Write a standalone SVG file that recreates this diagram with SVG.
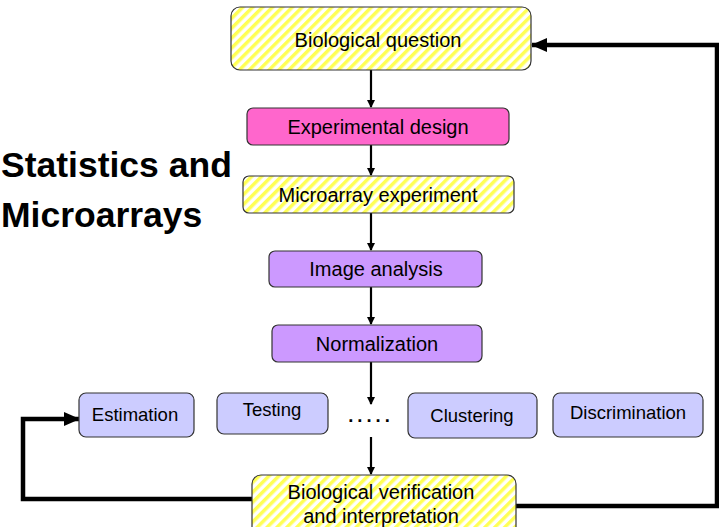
<svg xmlns="http://www.w3.org/2000/svg" width="719" height="527" viewBox="0 0 719 527">
<style>
.box{stroke:#333;stroke-width:1.2}
.t{font-family:"Liberation Sans",Arial,sans-serif;font-size:20px;fill:#000;text-anchor:middle}
.s{font-family:"Liberation Sans",Arial,sans-serif;font-size:18.5px;fill:#000;text-anchor:middle}
.title{font-family:"Liberation Sans",Arial,sans-serif;font-size:35.5px;font-weight:bold;fill:#000}
.thin{fill:none;stroke:#000;stroke-width:2.2}
.thick{fill:none;stroke:#000;stroke-width:4.5}
.stripe{fill:url(#stripes)}
.mag{fill:#FF66CC}
.pur{fill:#CC99FF}
.lav{fill:#CCCCFF}
</style>
<defs>
<pattern id="stripes" patternUnits="userSpaceOnUse" width="7" height="7" patternTransform="rotate(45)">
<rect width="7" height="7" fill="#fff"/>
<rect width="3.5" height="7" fill="#FFFF55"/>
</pattern>
<marker id="a1" markerWidth="8" markerHeight="8" refX="7" refY="4" orient="auto" markerUnits="userSpaceOnUse">
<path d="M0,0 L8,4 L0,8 Z" fill="#000"/>
</marker>
<marker id="a2" markerWidth="16" markerHeight="14" refX="15" refY="7" orient="auto" markerUnits="userSpaceOnUse">
<path d="M0,0 L16,7 L0,14 Z" fill="#000"/>
</marker>
</defs>
<text class="title" x="1" y="177">Statistics and</text>
<text class="title" x="1" y="227">Microarrays</text>
<g id="connectors">
<line class="thin" x1="371" y1="70" x2="371" y2="107" marker-end="url(#a1)"/>
<line class="thin" x1="371" y1="145" x2="371" y2="175" marker-end="url(#a1)"/>
<line class="thin" x1="371" y1="213" x2="371" y2="250" marker-end="url(#a1)"/>
<line class="thin" x1="371" y1="287" x2="371" y2="324" marker-end="url(#a1)"/>
<line class="thin" x1="371" y1="362" x2="371" y2="404" marker-end="url(#a1)"/>
<line class="thin" x1="371" y1="437" x2="371" y2="474" marker-end="url(#a1)"/>
<polyline class="thick" points="516,506 717,506 717,45 532,45" marker-end="url(#a2)"/>
<polyline class="thick" points="252,499 23,499 23,419 79,419" marker-end="url(#a2)"/>
</g>
<g id="n-bioq"><rect class="box stripe" x="231" y="7" width="300" height="63" rx="9"/><text class="t" x="378" y="47">Biological question</text></g>
<g id="n-expdesign"><rect class="box mag" x="247" y="108" width="262" height="37" rx="6"/><text class="t" x="378" y="134">Experimental design</text></g>
<g id="n-microarray"><rect class="box stripe" x="243" y="176" width="271" height="37" rx="6"/><text class="t" x="378" y="202">Microarray experiment</text></g>
<g id="n-image"><rect class="box pur" x="269" y="251" width="213" height="36" rx="6"/><text class="t" x="376" y="276">Image analysis</text></g>
<g id="n-norm"><rect class="box pur" x="272" y="325" width="210" height="37" rx="6"/><text class="t" x="377" y="351">Normalization</text></g>
<g id="n-est"><rect class="box lav" x="79" y="393" width="115" height="44" rx="7"/><text class="s" x="135" y="421">Estimation</text></g>
<g id="n-test"><rect class="box lav" x="217" y="393" width="111" height="41" rx="7"/><text class="s" x="272" y="416">Testing</text></g>
<g id="n-dots"><text class="s" x="371" y="422" font-weight="bold" letter-spacing="4">.....</text></g>
<g id="n-clust"><rect class="box lav" x="408" y="393" width="129" height="45" rx="7"/><text class="s" x="472" y="422">Clustering</text></g>
<g id="n-disc"><rect class="box lav" x="553" y="393" width="150" height="44" rx="7"/><text class="s" x="628" y="419">Discrimination</text></g>
<g id="n-verif"><rect class="box stripe" x="252" y="475" width="264" height="70" rx="9"/><text class="t" x="381" y="499">Biological verification</text><text class="t" x="381" y="523">and interpretation</text></g>
</svg>
